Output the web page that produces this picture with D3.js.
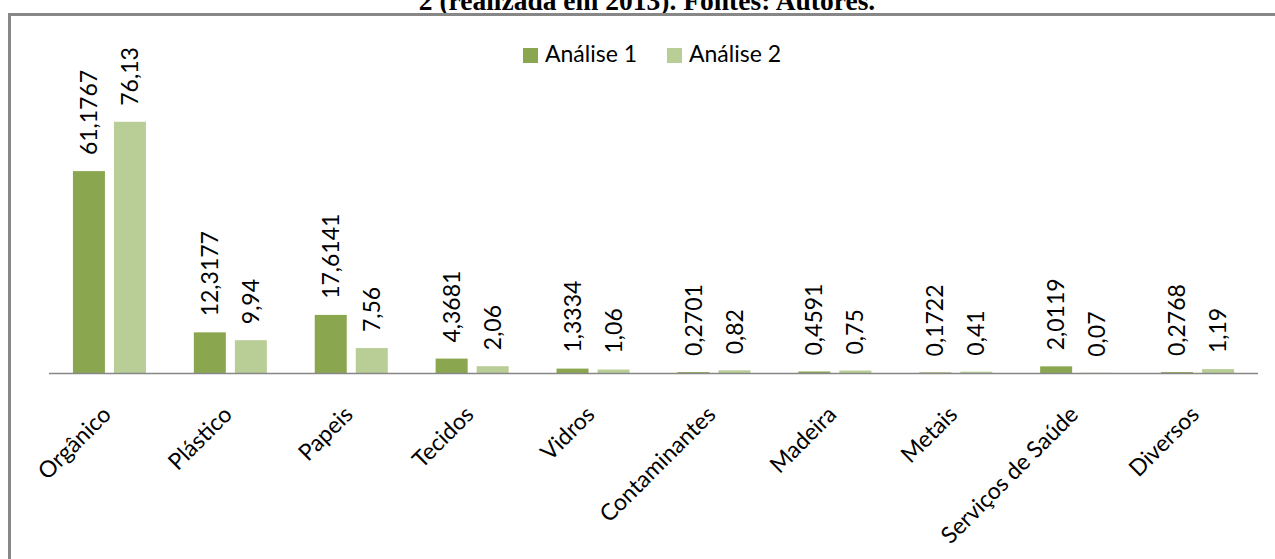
<!DOCTYPE html>
<html>
<head>
<meta charset="utf-8">
<script src="https://cdn.jsdelivr.net/npm/d3@7"></script>
<style>
  html, body { margin: 0; padding: 0; background: #fff; }
  svg { display: block; }
</style>
</head>
<body>
<svg id="chart" width="1275" height="559"></svg>
<script>
// data
const categories = ["Orgânico", "Plástico", "Papeis", "Tecidos", "Vidros",
    "Contaminantes", "Madeira", "Metais", "Serviços de Saúde", "Diversos"];
const series = ["Análise 1", "Análise 2"];
const analise1 = [61.1767, 12.3177, 17.6141, 4.3681, 1.3334, 0.2701, 0.4591, 0.1722, 2.0119, 0.2768];
const analise2 = [76.13, 9.94, 7.56, 2.06, 1.06, 0.82, 0.75, 0.41, 0.07, 1.19];
const colors = ["#8aa64f", "#b9ce97"];

const W = 1275, H = 559;
const svg = d3.select("#chart");
const font = "Lato, 'Open Sans', sans-serif";

let rows = categories.map((c, i) => ({cat: c, values: [analise1[i], analise2[i]]}));

// caption from the page above (clipped at top, as in the source)
svg.append("text")
    .attr("x", 647).attr("y", 10)
    .attr("text-anchor", "middle")
    .style("font", "bold 27.5px 'Liberation Serif', 'Times New Roman', serif")
    .text("2 (realizada em 2013). Fontes: Autores.");

// chart frame
svg.append("path")
    .attr("d", `M9.5,${H + 5} V14.5 H${W + 5}`)
    .attr("fill", "none")
    .attr("stroke", "#878787")
    .attr("stroke-width", 3);

let x0 = d3.scaleBand()
    .domain(categories)
    .range([49, 1258])
    .paddingInner(0.396)
    .paddingOuter(0.198);

let x1 = d3.scaleBand()
    .domain(series)
    .range([0, x0.bandwidth()])
    .paddingInner(0.22);

let y = d3.scaleLinear()
    .domain([0, 80])
    .range([373, 109]);

let groups = svg.append("g")
    .selectAll("g")
    .data(rows)
    .join("g")
    .attr("transform", d => `translate(${x0(d.cat)},0)`);

let bars = groups.selectAll("g")
    .data(d => d.values.map((v, j) => ({s: series[j], v: v, j: j})))
    .join("g");

bars.append("rect")
    .attr("x", d => x1(d.s))
    .attr("y", d => y(d.v))
    .attr("width", x1.bandwidth())
    .attr("height", d => y(0) - y(d.v))
    .attr("fill", d => colors[d.j]);

bars.append("text")
    .attr("transform", d => `translate(${x1(d.s) + x1.bandwidth() / 2},${y(d.v) - 16}) rotate(-90)`)
    .attr("dy", "0.35em")
    .attr("text-anchor", "start")
    .style("font", `23px ${font}`)
    .style("fill", "#000")
    .text(d => String(d.v).replace(".", ","));

// category axis line
svg.append("line")
    .attr("x1", 49).attr("x2", 1258)
    .attr("y1", y(0) + 0.5).attr("y2", y(0) + 0.5)
    .attr("stroke", "#878787")
    .attr("stroke-width", 1.5);

// category labels
svg.append("g")
    .selectAll("text")
    .data(categories)
    .join("text")
    .attr("transform", d => `translate(${x0(d) + x0.bandwidth() / 2 + 3},416) rotate(-45)`)
    .attr("text-anchor", "end")
    .style("font", `23px ${font}`)
    .style("fill", "#000")
    .text(d => d);

// legend
let legend = svg.append("g")
    .selectAll("g")
    .data(series)
    .join("g")
    .attr("transform", (d, i) => `translate(${523 + i * 144},48)`);

legend.append("rect")
    .attr("width", 15).attr("height", 15)
    .attr("fill", (d, i) => colors[i]);

legend.append("text")
    .attr("x", 22).attr("y", 14)
    .style("font", `23px ${font}`)
    .style("fill", "#000")
    .text(d => d);
</script>
</body>
</html>
